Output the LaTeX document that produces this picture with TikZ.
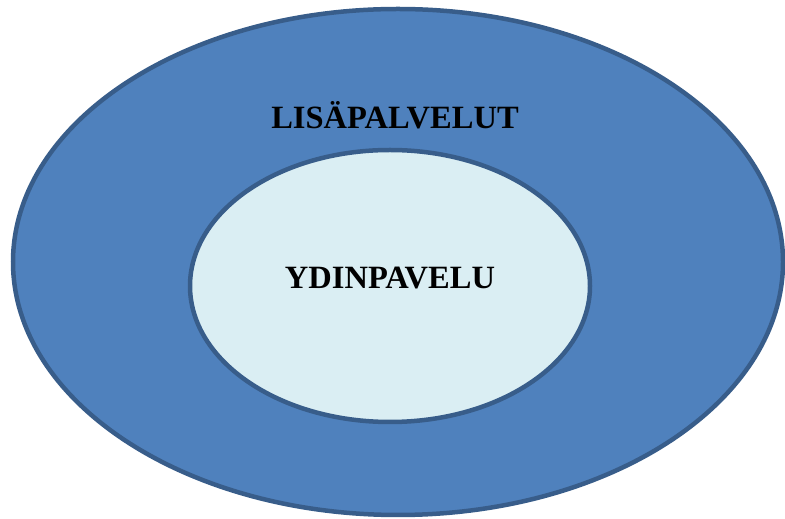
\documentclass[tikz,border=0pt]{standalone}
\usepackage{fontspec}
\setmainfont{Liberation Serif}
\usepackage{tikz}
\usetikzlibrary{shapes.geometric}
\definecolor{outerblue}{HTML}{4F81BD}
\definecolor{edgeblue}{HTML}{385D8A}
\definecolor{innerblue}{HTML}{DAEEF3}
\tikzset{
	layer/.style={
		% The shape:
		ellipse,inner sep=0pt,
		% The border:
		line width=4.5pt,
		draw=edgeblue,
	}}
\tikzset{
		caption/.style={
			% The text:
			font=\fontsize{32.5}{36}\selectfont\bfseries,
			text=black,
			inner sep=0pt,
		}}

\begin{document}
\begin{tikzpicture}[x=1pt,y=1pt]
				\useasboundingbox (0,0) rectangle (785,519);
				\node[layer,fill=outerblue,minimum width=770,minimum height=506] (lisa) at (398,257) {};
				\node[layer,fill=innerblue,minimum width=400,minimum height=272] (ydin) at (390,233) {};
				\node[caption] (lisa-t) at (395,404) {LISÄPALVELUT};
				\node[caption] (ydin-t) at (390,241) {YDINPAVELU};
\end{tikzpicture}
\end{document}
